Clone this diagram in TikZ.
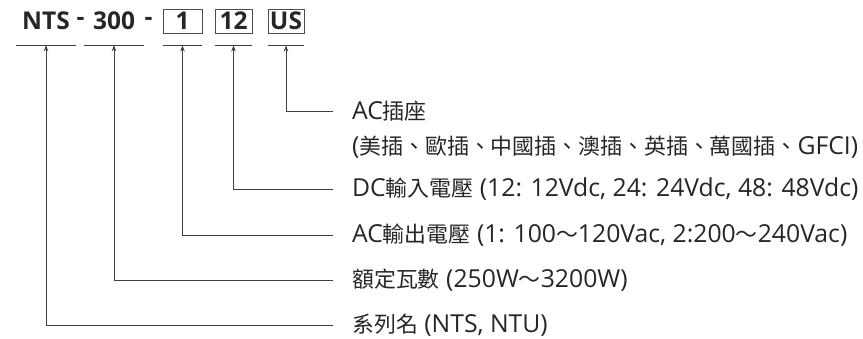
\documentclass[tikz,border=0pt]{standalone}
\usepackage{fontspec}
\setmainfont{Noto Sans CJK TC}
\newfontfamily\codefont{Open Sans}
\newfontfamily\latfont{Open Sans}[Scale=1.13]
\newcommand\la[1]{{\latfont #1}}
\usepackage{tikz}
\usetikzlibrary{calc,arrows.meta}

\begin{document}
\begin{tikzpicture}[x=1pt,y=-1pt,
        code/.style={font=\codefont\bfseries\fontsize{24.5}{28}\selectfont, inner sep=0pt, minimum height=24pt, text=black!85},
        codebox/.style={code, draw=black!70, line width=0.9pt},
        lbl/.style={anchor=west, inner xsep=19pt, inner ysep=0pt, font=\fontsize{21.9}{26}\selectfont, text=black!85},
        uline/.style={draw=black!75, line width=0.9pt},
        conn/.style={draw=black!75, line width=0.9pt, -{Stealth[length=6pt,width=4.5pt]}}]
        \useasboundingbox (0,0) rectangle (863,338);
        % model code
        \node[code, minimum width=59pt] (nts) at (46,21) {NTS};
        \node[code] (d1) at (80.5,21) {-};
        \node[code, minimum width=59pt] (w) at (114,21) {300};
        \node[code] (d2) at (148.5,21) {-};
        \node[codebox, minimum width=39pt] (ac) at (182.5,21) {1};
        \node[codebox, minimum width=37pt] (dc) at (233.5,21) {12};
        \node[codebox, minimum width=36pt] (pl) at (286,21) {US};
        \foreach \n in {nts,w,ac,dc,pl}
            \draw[uline] ($(\n.south west)+(0,12)$) -- coordinate (\n-u) ($(\n.south east)+(0,12)$);
        % labels
        \node[lbl] (l-pl) at (333,111) {\la{AC}插座};
        \node[lbl] (l-pl2) at (333,147) {\la{(}美插、歐插、中國插、澳插、英插、萬國插、\la{GFCI)}};
        \node[lbl] (l-dc) at (333,189) {\la{DC}輸入電壓\la{ (12: 12Vdc, 24: 24Vdc, 48: 48Vdc)}};
        \node[lbl] (l-ac) at (333,235) {\la{AC}輸出電壓\la{ (1: 100}～\la{120Vac, 2:200}～\la{240Vac)}};
        \node[lbl] (l-w) at (333,280) {額定瓦數\la{ (250W}～\la{3200W)}};
        \node[lbl] (l-nts) at (333,325) {系列名\la{ (NTS, NTU)}};
        \foreach \n in {pl,dc,ac,w,nts}
            \draw[conn] (l-\n.west) -| (\n-u);
    \end{tikzpicture}
\end{document}
